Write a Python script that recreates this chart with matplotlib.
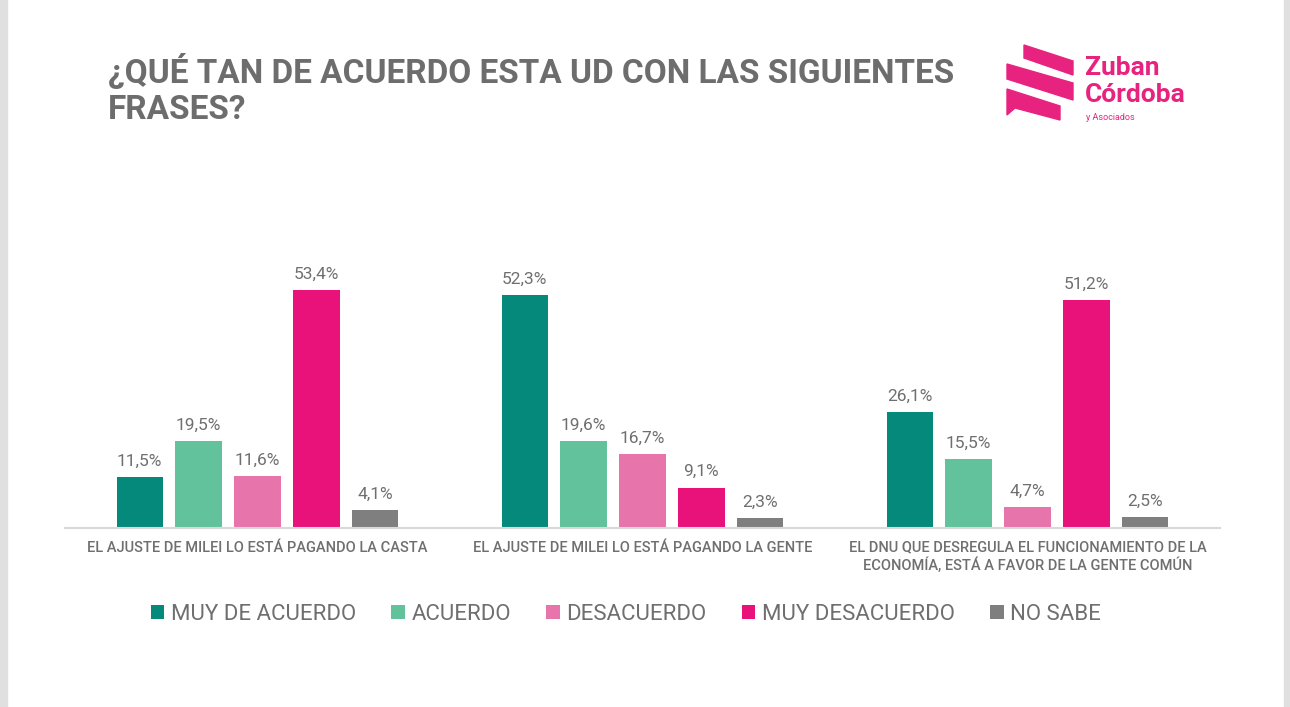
import matplotlib
matplotlib.use("Agg")
import matplotlib.pyplot as plt
from matplotlib.patches import Polygon, Rectangle
import numpy as np

plt.rcParams['font.family'] = ['Roboto', 'DejaVu Sans']

categories = [
    "EL AJUSTE DE MILEI LO ESTÁ PAGANDO LA CASTA",
    "EL AJUSTE DE MILEI LO ESTÁ PAGANDO LA GENTE",
    "EL DNU QUE DESREGULA EL FUNCIONAMIENTO DE LA\nECONOMÍA, ESTÁ A FAVOR DE LA GENTE COMÚN",
]
series_names = ["MUY DE ACUERDO", "ACUERDO", "DESACUERDO", "MUY DESACUERDO", "NO SABE"]
muy_de_acuerdo = [11.5, 52.3, 26.1]
acuerdo = [19.5, 19.6, 15.5]
desacuerdo = [11.6, 16.7, 4.7]
muy_desacuerdo = [53.4, 9.1, 51.2]
no_sabe = [4.1, 2.3, 2.5]
series_values = [muy_de_acuerdo, acuerdo, desacuerdo, muy_desacuerdo, no_sabe]
colors = ["#05897a", "#62c29c", "#e874ac", "#e8127a", "#7f7f7f"]

TXT = "#6f6f6f"
W, H = 1290, 707
fig = plt.figure(figsize=(W / 100, H / 100), dpi=100)
fig.patch.set_facecolor("white")

def px(x, y):
    return x / W, 1 - y / H

# page edges
fig.patches.append(Rectangle((0, 0), 7 / W, 1, transform=fig.transFigure, color="#e0e0e0", zorder=0))
fig.patches.append(Rectangle((1 - 6 / W, 0), 6 / W, 1, transform=fig.transFigure, color="#e0e0e0", zorder=0))

ax_left, ax_right = 65, 1220
ax_bottom, ax_top = 528, 261
ax = fig.add_axes([ax_left / W, 1 - ax_bottom / H, (ax_right - ax_left) / W, (ax_bottom - ax_top) / H])
ax.set_xlim(-0.5, 2.5)
ax.set_ylim(0, 60)

x = np.arange(len(categories))
bw = 0.12
step = 0.153
for i, (name, vals, c) in enumerate(zip(series_names, series_values, colors)):
    offs = (i - 2) * step
    ax.bar(x + offs, vals, width=bw, color=c, label=name, zorder=2)
    for xi, v in zip(x + offs, vals):
        ax.annotate(f"{v:.1f}%".replace(".", ","), (xi, v), xytext=(0, 6),
                    textcoords="offset points", ha="center", va="bottom",
                    fontsize=12.5, color=TXT)

for s in ["top", "right", "left"]:
    ax.spines[s].set_visible(False)
ax.spines["bottom"].set_color("#d9d9d9")
ax.spines["bottom"].set_linewidth(1.5)
ax.set_yticks([])
ax.set_xticks(x)
ax.set_xticklabels(categories, fontsize=10.5, color=TXT, linespacing=1.25, va="top",
                   fontweight="medium")
ax.tick_params(axis="x", length=0, pad=9)

# legend
fig.legend(loc="center", bbox_to_anchor=px(626, 614), ncol=5, frameon=False,
           fontsize=16, labelcolor=TXT, handlelength=0.6, handleheight=0.6,
           handletextpad=0.3, columnspacing=1.6)

# title
fig.text(*px(108, 90), "¿QUÉ TAN DE ACUERDO ESTA UD CON LAS SIGUIENTES\nFRASES?",
         fontsize=24, fontweight="bold", color="#6d6d6d", ha="left", va="center",
         linespacing=1.17)

# logo
pink = "#e8237f"
bands = [
    [(1024, 45), (1073, 61), (1073, 75), (1024, 58)],
    [(1007, 64), (1073, 83), (1073, 100), (1007, 79)],
    [(1007, 89), (1060, 106), (1060, 120), (1015, 108), (1007, 115)],
]
for b in bands:
    fig.patches.append(Polygon([px(*p) for p in b], closed=True, transform=fig.transFigure,
                               color=pink, zorder=3))
fig.text(*px(1085, 68), "Zuban", fontsize=19, fontweight="bold", color=pink, ha="left", va="center")
fig.text(*px(1085, 95), "Córdoba", fontsize=19, fontweight="bold", color=pink, ha="left", va="center")
fig.text(*px(1086, 117), "y Asociados", fontsize=6.5, color=pink, ha="left", va="center")

fig.savefig("out.png", dpi=100, facecolor="white")
